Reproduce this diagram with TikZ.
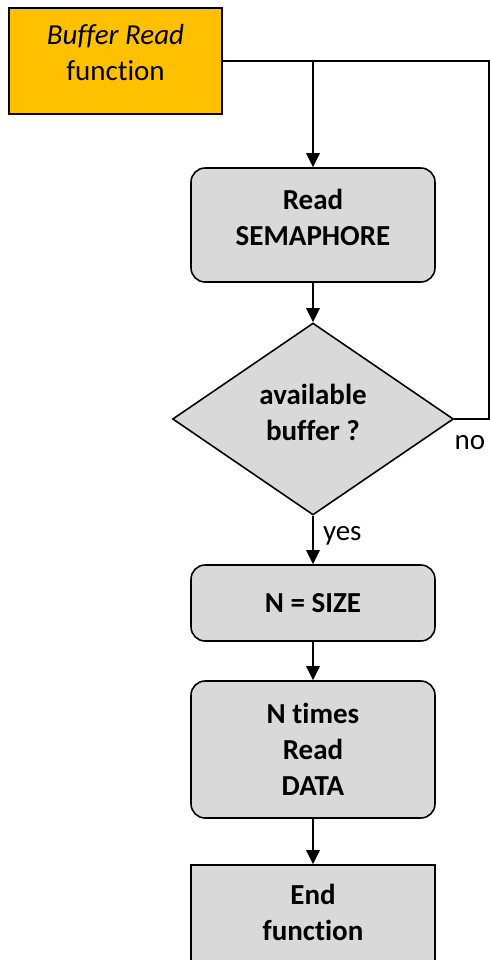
\documentclass[tikz,border=0pt]{standalone}
\usepackage{fontspec}
\setmainfont{Carlito}[Ligatures=NoCommon]
\usepackage{tikz}
\usetikzlibrary{arrows.meta,shapes.geometric,positioning}
\definecolor{startOrange}{RGB}{255,192,0}
\definecolor{boxGray}   {RGB}{217,217,217}

\begin{document}
\begin{tikzpicture}[x=0.02cm,y=-0.02cm,
    txt/.style={font=\fontsize{16.5}{20.5}\selectfont,align=center,inner sep=0pt},
    stepbox/.style={txt,font=\fontsize{16.5}{20.5}\selectfont\bfseries,draw,
      fill=boxGray,line width=0.9pt,rounded corners=8pt,minimum width=4.88cm},
    flow/.style={-{Triangle[width=7.5pt,length=8pt]},line width=1.4pt},
    back/.style={line width=0.8pt}]
  \useasboundingbox (0,0) rectangle (490,960);

  % Start
  \node[txt,draw,fill=startOrange,line width=0.8pt,minimum width=4.26cm,
        minimum height=2.12cm,text depth=0.36cm] (start) at (115.5,61)
        {\textit{Buffer Read}\\function};

  % Blocos
  \node[stepbox,minimum height=2.28cm,text depth=0.29cm] (sema) at (313,225)
        {Read\\SEMAPHORE};
  \node[diamond,txt,font=\fontsize{16.5}{20.5}\selectfont\bfseries,draw,fill=boxGray,
        line width=0.9pt,minimum width=5.62cm,minimum height=3.84cm,
        text depth=0.25cm] (dec) at (313,419) {available\\buffer ?};
  \node[stepbox,minimum height=1.52cm] (size) at (313,603) {N = SIZE};
  \node[stepbox,minimum height=2.74cm] (times) at (313,749.5) {N times\\Read\\DATA};
  \node[stepbox,rounded corners=0pt,minimum height=2cm,text depth=0.1cm] (stop)
        at (313,915) {End\\function};

  % Laco de volta
  \coordinate (loopTop) at (489,61);
  \coordinate (loopBot) at (489,419);
  \draw[back] (start.east) -- (loopTop) -- (loopBot)
    -- node[txt,below,yshift=-9pt,xshift=-1pt]{no} (dec.east);

  % Setas
  \draw[flow] (start.east -| sema.north) -- (sema.north);
  \draw[flow] (sema) -- (dec);
  \draw[flow] (dec.south) -- node[txt,right,pos=0.3,xshift=5pt,yshift=-3pt]{yes}
    (size.north);
  \draw[flow] (size) -- (times);
  \draw[flow] (times) -- (stop);
\end{tikzpicture}
\end{document}
